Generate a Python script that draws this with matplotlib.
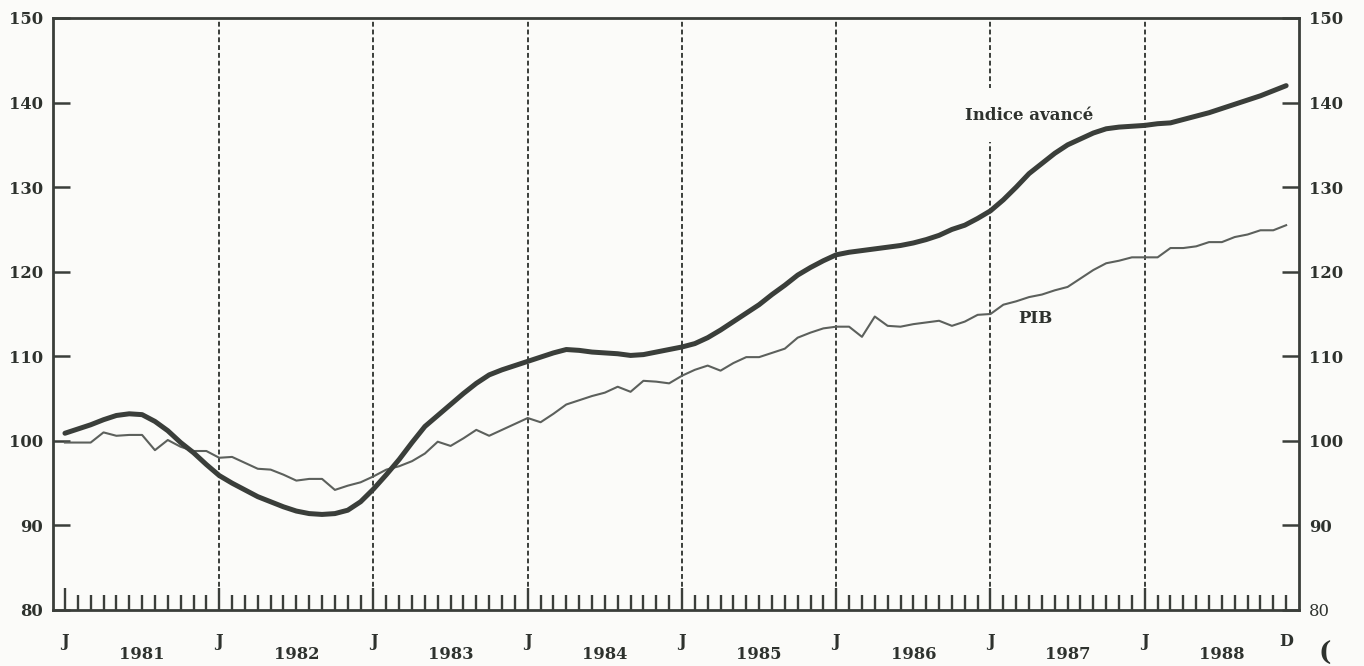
import numpy as np
import matplotlib.pyplot as plt

# monthly values, Jan 1981 .. Dec 1988 (index 1981 = 100)
indice_avance = [
    100.9, 101.4, 101.9, 102.5, 103.0, 103.2, 103.1, 102.3, 101.2, 99.8, 98.6, 97.2,
    95.9, 95.0, 94.2, 93.4, 92.8, 92.2, 91.7, 91.4, 91.3, 91.4, 91.8, 92.8,
    94.3, 96.0, 97.8, 99.8, 101.7, 103.0, 104.3, 105.6, 106.8, 107.8, 108.4, 108.9,
    109.4, 109.9, 110.4, 110.8, 110.7, 110.5, 110.4, 110.3, 110.1, 110.2, 110.5, 110.8,
    111.1, 111.5, 112.2, 113.1, 114.1, 115.1, 116.1, 117.3, 118.4, 119.6, 120.5, 121.3,
    122.0, 122.3, 122.5, 122.7, 122.9, 123.1, 123.4, 123.8, 124.3, 125.0, 125.5, 126.3,
    127.2, 128.5, 130.0, 131.6, 132.8, 134.0, 135.0, 135.7, 136.4, 136.9, 137.1, 137.2,
    137.3, 137.5, 137.6, 138.0, 138.4, 138.8, 139.3, 139.8, 140.3, 140.8, 141.4, 142.0,
]
pib = [
    99.8, 99.8, 99.8, 101.0, 100.6, 100.7, 100.7, 98.9, 100.1, 99.3, 98.8, 98.8,
    98.0, 98.1, 97.4, 96.7, 96.6, 96.0, 95.3, 95.5, 95.5, 94.2, 94.7, 95.1,
    95.8, 96.6, 97.0, 97.6, 98.5, 99.9, 99.4, 100.3, 101.3, 100.6, 101.3, 102.0,
    102.7, 102.2, 103.2, 104.3, 104.8, 105.3, 105.7, 106.4, 105.8, 107.1, 107.0, 106.8,
    107.7, 108.4, 108.9, 108.3, 109.2, 109.9, 109.9, 110.4, 110.9, 112.2, 112.8, 113.3,
    113.5, 113.5, 112.3, 114.7, 113.6, 113.5, 113.8, 114.0, 114.2, 113.6, 114.1, 114.9,
    115.0, 116.1, 116.5, 117.0, 117.3, 117.8, 118.2, 119.2, 120.2, 121.0, 121.3, 121.7,
    121.7, 121.7, 122.8, 122.8, 123.0, 123.5, 123.5, 124.1, 124.4, 124.9, 124.9, 125.5,
]
years = [1981, 1982, 1983, 1984, 1985, 1986, 1987, 1988]
y_ticks = [80, 90, 100, 110, 120, 130, 140, 150]

ink = "#3a3e3a"
txt = "#2e322e"
bg = "#fbfbf9"
font = "DejaVu Serif"

months = np.arange(len(pib))
jan = np.arange(0, len(pib), 12)

fig = plt.figure(figsize=(13.64, 6.66), dpi=100, facecolor=bg)
ax = fig.add_axes([53 / 1364, 1 - 610 / 666, 1246 / 1364, 592 / 666])
ax.set_facecolor(bg)

ax.plot(months, pib, color="#5c605c", lw=1.5, zorder=3)
ax.plot(months, indice_avance, color=ink, lw=3.6, solid_capstyle="round", zorder=4)

# dashed year separators
for m in jan[1:]:
    ax.axvline(m, color=ink, lw=1.4, linestyle=(0, (2.5, 1.5)), zorder=1)

ax.set_xlim(-0.93, 96)
ax.set_ylim(80, 150)

for s in ax.spines.values():
    s.set_color(ink)
    s.set_linewidth(2)

# month ticks along the bottom, pointing up
ax.set_xticks(jan)
ax.set_xticks(months, minor=True)
ax.tick_params(axis="x", which="major", direction="in", length=16, width=1.7,
               color=ink, labelbottom=False)
ax.tick_params(axis="x", which="minor", direction="in", length=11, width=1.7,
               color=ink)

ax.set_yticks(y_ticks)
ax.tick_params(axis="y", direction="in", length=12, width=1.8, color=ink,
               left=True, right=True, labelleft=True, labelright=True,
               labelsize=11.8, labelcolor=txt, pad=7)
for t in ax.yaxis.get_major_ticks():
    for lab in (t.label1, t.label2):
        lab.set_fontfamily(font)
        lab.set_fontweight("bold")
# the right-hand 80 is printed lighter
ax.yaxis.get_major_ticks()[0].label2.set_fontweight("normal")

trans = ax.get_xaxis_transform()
for m in jan:
    ax.text(m, -0.054, "J", transform=trans, ha="center", va="center",
            fontsize=11.5, family=font, fontweight="bold", color=txt)
ax.text(months[-1], -0.054, "D", transform=trans, ha="center", va="center",
        fontsize=11.5, family=font, fontweight="bold", color=txt)
for m, yr in zip(jan, years):
    ax.text(m + 6, -0.076, str(yr), transform=trans, ha="center", va="center",
            fontsize=11.8, family=font, fontweight="bold", color=txt)

ax.text(75.0, 138.5, "Indice avancé", ha="center", va="center", fontsize=12,
        family=font, fontweight="bold", color=txt, zorder=2,
        bbox=dict(boxstyle="square,pad=1.1", fc=bg, ec="none"))
ax.text(75.5, 114.5, "PIB", ha="center", va="center", fontsize=12,
        family=font, fontweight="bold", color=txt)

fig.text(1325 / 1364, 1 - 653 / 666, "(", ha="center", va="center",
         fontsize=19, fontweight="bold", family=font, color=txt)

fig.savefig("out.png", dpi=100, facecolor=fig.get_facecolor())
